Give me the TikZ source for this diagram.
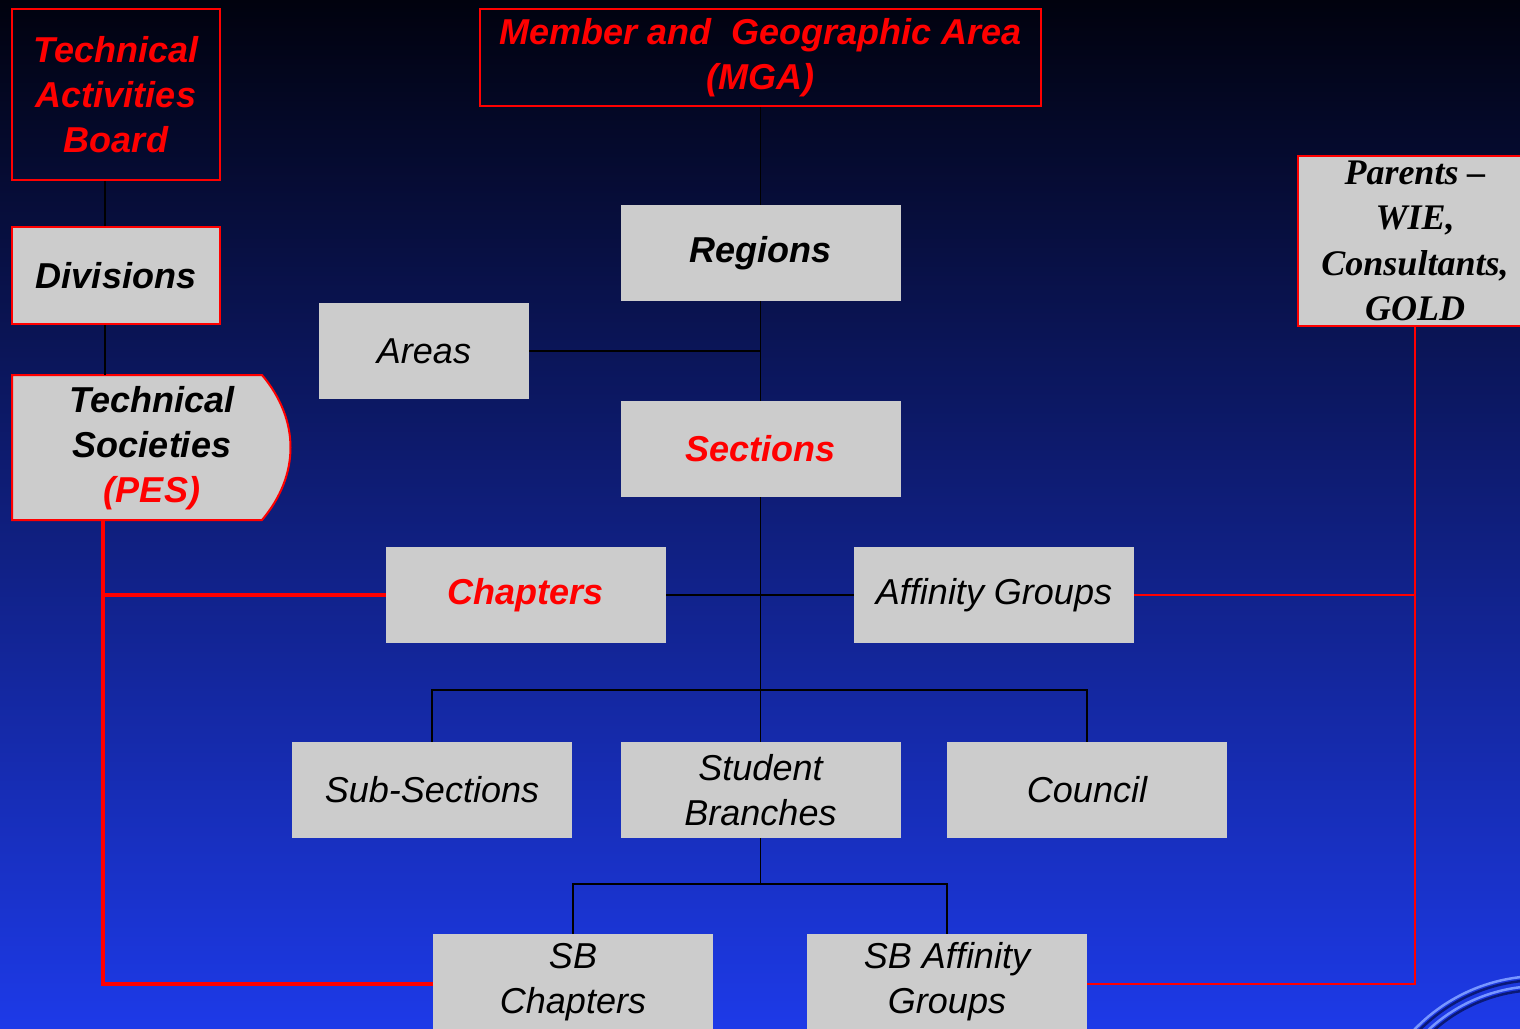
\documentclass[tikz,border=0pt]{standalone}
\usepackage{fontspec}
\setmainfont{Liberation Sans}
\newfontfamily\timesf{Liberation Serif}
\definecolor{boxgray}{RGB}{204,204,204}
\definecolor{bgtop}{RGB}{1,2,14}
\definecolor{bgmid}{RGB}{14,32,138}
\definecolor{bgbot}{RGB}{29,58,232}
\definecolor{swirlhi}{RGB}{120,150,255}
\definecolor{swirllo}{RGB}{10,25,120}
\begin{document}
\begin{tikzpicture}[x=1pt,y=-1pt,
  box/.style={fill=boxgray, rectangle, inner sep=0pt, minimum width=280pt,
    minimum height=96pt, align=center, font=\fontsize{36}{45}\selectfont\itshape},
  redframe/.style={draw=red, line width=2pt},
  bi/.style={font=\fontsize{36}{45}\selectfont\bfseries\itshape},
  link/.style={draw=black, line width=1.6pt},
  redthick/.style={draw=red, line width=4pt},
  redthin/.style={draw=red, line width=1.6pt},
  swirl/.style={line width=2.5pt}
]
\useasboundingbox (0,0) rectangle (1520,1028);
\clip (0,0) rectangle (1520,1028);
\shade[top color=bgtop, middle color=bgmid, bottom color=bgbot] (0,0) rectangle (1520,1028);

% decorative swirl
\draw[swirl, swirllo] (1540,1150) circle (170);
\draw[swirl, swirlhi] (1540,1150) circle (174);
\draw[swirl, swirllo] (1540,1150) circle (160);
\draw[swirl, swirlhi] (1540,1150) circle (164);
\draw[swirl, swirlhi!70!bgbot] (1540,1150) circle (112);

% left column
\node[box, redframe, fill=none, minimum width=208pt, minimum height=171pt, text=red, bi] (tab) at (116,94.5) {Technical\\Activities\\Board};
\node[box, redframe, minimum width=208pt, minimum height=97pt, bi] (div) at (116,275.5) {Divisions};
\path[fill=boxgray, draw=red, line width=2pt] (12,375) -- (262,375) .. controls (300,420) and (300,475) .. (262,520) -- (12,520) -- cycle;
\node[align=center, bi] (ts) at (152,448) {Technical\\Societies\\\textcolor{red}{(PES)}};
\coordinate (tstop) at (105,375);
\coordinate (tsbot) at (103,520);

% centre column
\node[box, redframe, fill=none, minimum width=561pt, minimum height=97pt, text=red, bi] (mga) at (760.5,57.5) {Member and\ \ Geographic Area\\(MGA)};
\node[box, bi] (reg) at (760.5,253) {Regions};
\node[box, minimum width=210pt] (areas) at (424,351) {Areas};
\node[box, bi, text=red] (sec) at (760.5,449) {Sections};
\node[box, bi, text=red] (chap) at (526,595) {Chapters};
\node[box] (aff) at (994,595) {Affinity Groups};
\node[box] (sub) at (432,790) {Sub-Sections};
\node[box] (sb) at (760.5,790) {Student\\Branches};
\node[box] (cou) at (1087,790) {Council};
\node[box] (sbc) at (573,982) {SB\\Chapters};
\node[box] (sba) at (947,982) {SB Affinity\\Groups};

% right column
\node[box, redframe, minimum width=234pt, minimum height=170pt,
  font=\fontsize{36}{45.3}\selectfont\timesf\bfseries\itshape] (par) at (1415,241) {Parents –\\WIE,\\Consultants,\\GOLD};

\coordinate (bus) at (760.5,690);
\coordinate (bus2) at (760.5,884);

% black connectors
\draw[link] (tab.south -| tstop) -- (div.north -| tstop);
\draw[link] (div.south -| tstop) -- (tstop);
\draw[link] (mga.south) -- (reg.north);
\draw[link] (reg.south) -- (sec.north);
\draw[link] (areas.east) -- (areas.east -| reg.south);
\draw[link] (sec.south) -- (sb.north);
\draw[link] (chap.east) -- (aff.west);
\draw[link] (sub.north) |- (bus) -| (cou.north);
\draw[link] (sb.south) -- (bus2);
\draw[link] (sbc.north) |- (bus2) -| (sba.north);

% red connectors
\draw[redthick] (tsbot) |- ([yshift=-2pt]sbc.west);
\draw[redthick] (chap.west -| tsbot) -- (chap.west);
\draw[redthin] (par.south) |- ([yshift=-2pt]sba.east);
\draw[redthin] (aff.east) -- (aff.east -| par.south);
\end{tikzpicture}
\end{document}
